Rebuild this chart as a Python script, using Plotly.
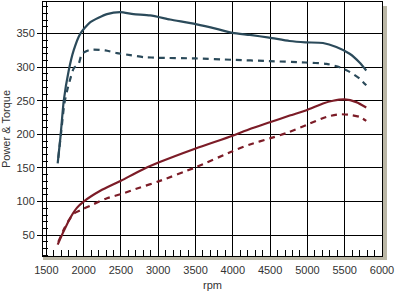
import plotly.graph_objects as go

# Upper solid curve (dark slate)
up_solid_rpm = [1652, 1689, 1733, 1800, 1866, 1956, 2090, 2313, 2490, 2668, 2892, 3159, 3502, 3783, 3997, 4229, 4487, 4759, 4973, 5208, 5388, 5566, 5699, 5789]
up_solid_val = [157, 196, 250, 295, 325, 350, 367, 379, 382, 379, 377, 371, 364, 357, 351, 348, 344, 339, 337, 336, 330, 320, 307, 295]

# Upper dashed curve (dark slate)
up_dash_rpm = [1660, 1700, 1740, 1778, 1822, 1866, 1933, 1978, 2090, 2290, 2447, 2624, 2802, 3003, 3502, 3997, 4487, 4973, 5254, 5432, 5566, 5699, 5789]
up_dash_val = [165, 205, 245, 265, 283, 298, 305, 320, 326, 325, 321, 318, 315, 314, 313, 311, 309, 307, 305, 300, 293, 283, 273]

# Lower solid curve (dark red)
lo_solid_rpm = [1652, 1733, 1822, 1912, 2000, 2223, 2500, 2758, 3003, 3502, 3997, 4229, 4496, 4763, 4987, 5209, 5343, 5499, 5655, 5789]
lo_solid_val = [36, 56, 76, 91, 100, 116, 131, 146, 158, 179, 198, 208, 218, 228, 236, 246, 250, 252, 248, 240]

# Lower dashed curve (dark red)
lo_dash_rpm = [1660, 1740, 1800, 1866, 1956, 2090, 2313, 2500, 2758, 3003, 3502, 3997, 4229, 4496, 4719, 4987, 5254, 5432, 5566, 5699, 5789]
lo_dash_val = [40, 60, 72, 82, 87, 94, 105, 111, 121, 130, 151, 175, 185, 194, 202, 214, 226, 230, 229, 226, 220]

x_ticks = [1500, 2000, 2500, 3000, 3500, 4000, 4500, 5000, 5500, 6000]
y_ticks = [50, 100, 150, 200, 250, 300, 350]

SLATE = "#2b4a5a"
RED = "#7c1c27"

fig = go.Figure()
fig.add_trace(go.Scatter(x=up_solid_rpm, y=up_solid_val, mode="lines",
                         line=dict(color=SLATE, width=2.2, shape="spline", smoothing=0.6)))
fig.add_trace(go.Scatter(x=up_dash_rpm, y=up_dash_val, mode="lines",
                         line=dict(color=SLATE, width=2.2, dash="6px,5px", shape="spline", smoothing=0.6)))
fig.add_trace(go.Scatter(x=lo_solid_rpm, y=lo_solid_val, mode="lines",
                         line=dict(color=RED, width=2.2, shape="spline", smoothing=0.6)))
fig.add_trace(go.Scatter(x=lo_dash_rpm, y=lo_dash_val, mode="lines",
                         line=dict(color=RED, width=2.2, dash="6px,5px", shape="spline", smoothing=0.6)))

font = dict(family="Liberation Sans, Arial, sans-serif", size=11, color="#333333")

fig.update_layout(
    width=412, height=299,
    margin=dict(l=43, r=30, t=2, b=43),
    paper_bgcolor="white", plot_bgcolor="white",
    showlegend=False,
    font=font,
    xaxis=dict(
        range=[1455, 6000], tickvals=x_ticks, ticktext=[str(v) for v in x_ticks],
        showgrid=True, gridcolor="black", gridwidth=1,
        showline=True, linecolor="black", linewidth=1, mirror=True,
        ticks="inside", ticklen=6, tickcolor="black",
        ticklabelstandoff=4,
        minor=dict(dtick=100, tick0=1500, ticks="inside", ticklen=6, tickcolor="black", showgrid=False),
        zeroline=False,
        title=dict(text="rpm", font=font, standoff=6),
    ),
    yaxis=dict(
        range=[19, 397], tickvals=y_ticks, ticktext=[str(v) for v in y_ticks],
        showgrid=True, gridcolor="black", gridwidth=1,
        showline=True, linecolor="black", linewidth=1, mirror=True,
        ticks="outside", ticklen=5, tickcolor="black",
        minor=dict(dtick=10, tick0=0, ticks="inside", ticklen=5, tickcolor="black", showgrid=False),
        zeroline=False,
        title=dict(text="Power & Torque", font=font, standoff=6),
    ),
)

# drop shadow right and bottom of plot frame
SH = "#bbb7a6"
fig.add_shape(type="rect", xref="paper", yref="paper",
              x0=1.0 + 1/339, x1=1.0 + 5/339, y0=-4/254, y1=1 - 4/254,
              fillcolor=SH, line_width=0, layer="above")
fig.add_shape(type="rect", xref="paper", yref="paper",
              x0=0.0, x1=1.0 + 5/339, y0=-4/254, y1=-1/254,
              fillcolor=SH, line_width=0, layer="above")

fig.write_html("out.html")
